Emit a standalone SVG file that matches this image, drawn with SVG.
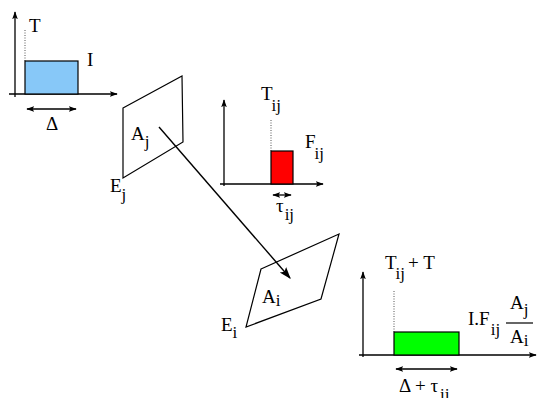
<svg xmlns="http://www.w3.org/2000/svg" width="537" height="398" viewBox="0 0 537 398">
<defs>
<marker id="ah" viewBox="0 0 10 10" refX="9" refY="5" markerWidth="8" markerHeight="8" markerUnits="userSpaceOnUse" orient="auto-start-reverse">
<path d="M0,1.5 L10,5 L0,8.5 L2,5 z" fill="#000"/>
</marker>
<marker id="ah2" viewBox="0 0 10 10" refX="9" refY="5" markerWidth="12" markerHeight="12" markerUnits="userSpaceOnUse" orient="auto">
<path d="M0,1.5 L10,5 L0,8.5 L2,5 z" fill="#000"/>
</marker>
</defs>
<style>
.ax{stroke:#000;stroke-width:1.3;fill:none}
.dot{stroke:#555;stroke-width:1;stroke-dasharray:1,1.5;fill:none}
.plane{stroke:#000;stroke-width:1.2;fill:none}
text{font-family:'Liberation Serif','Times New Roman',serif;font-size:19px;fill:#000}
.s{font-size:17px}
.box{stroke:#000;stroke-width:1.2}
</style>
<g id="chart-source">
<line class="ax" x1="15" y1="97" x2="15" y2="12" marker-end="url(#ah)"/>
<line class="ax" x1="9" y1="94" x2="117" y2="94" marker-end="url(#ah)"/>
<line class="dot" x1="25" y1="30" x2="25" y2="61"/>
<rect class="box" x="25" y="61" width="53" height="33" fill="#87c8f8"/>
<line class="ax" x1="27" y1="109" x2="76" y2="109" marker-start="url(#ah)" marker-end="url(#ah)"/>
<text x="29" y="32">T</text>
<text x="87" y="66">I</text>
<text x="46" y="130">Δ</text>
</g>
<g id="plane-Ej">
<polygon class="plane" points="123,108 182,76 183,142 123,178"/>
<text x="131" y="140">A<tspan class="s" dy="7">j</tspan></text>
<text x="110" y="192">E<tspan class="s" dy="8">j</tspan></text>
</g>
<g id="chart-form-factor">
<line class="ax" x1="224" y1="186" x2="224" y2="100" marker-end="url(#ah)"/>
<line class="ax" x1="220" y1="184" x2="323" y2="184" marker-end="url(#ah)"/>
<line class="dot" x1="271" y1="120" x2="271" y2="151"/>
<rect class="box" x="271" y="151" width="22" height="33" fill="#ff0000"/>
<line class="ax" x1="273" y1="195" x2="291" y2="195" marker-start="url(#ah)" marker-end="url(#ah)"/>
<text x="261" y="100">T<tspan class="s" dx="-1" dy="11">ij</tspan></text>
<text x="305" y="148">F<tspan class="s" dx="-1" dy="11">ij</tspan></text>
<text x="276" y="212">τ<tspan class="s" dx="1" dy="8">ij</tspan></text>
</g>
<g id="plane-Ei">
<polygon class="plane" points="261,269 339,234 321,299 246,327"/>
<text x="262" y="303">A<tspan class="s" dy="3">i</tspan></text>
<text x="221" y="331">E<tspan class="s" dy="7">i</tspan></text>
</g>
<g id="chart-result">
<line class="ax" x1="363" y1="357" x2="363" y2="272" marker-end="url(#ah)"/>
<line class="ax" x1="359" y1="355" x2="536" y2="355" marker-end="url(#ah)"/>
<line class="dot" x1="394" y1="291" x2="394" y2="332"/>
<rect class="box" x="394" y="332" width="65" height="23" fill="#00ff00"/>
<line class="ax" x1="396" y1="369" x2="457" y2="369" marker-start="url(#ah)" marker-end="url(#ah)"/>
<text x="385" y="269">T<tspan class="s" dx="-1" dy="10">ij</tspan><tspan dx="3" dy="-10">+ T</tspan></text>
<text x="468" y="325">I.F<tspan class="s" dx="1" dy="10">ij</tspan></text>
<text x="510" y="309">A<tspan class="s" dy="6">j</tspan></text>
<line stroke="#000" stroke-width="1.2" x1="506" y1="323" x2="533" y2="323"/>
<text x="510" y="343">A<tspan class="s" dy="3">i</tspan></text>
<text x="399" y="392">Δ + τ<tspan class="s" dx="2" dy="8">ij</tspan></text>
</g>
<g id="connectors">
<line x1="159" y1="127" x2="290" y2="278" stroke="#000" stroke-width="1.4" marker-end="url(#ah2)"/>
</g>
</svg>
